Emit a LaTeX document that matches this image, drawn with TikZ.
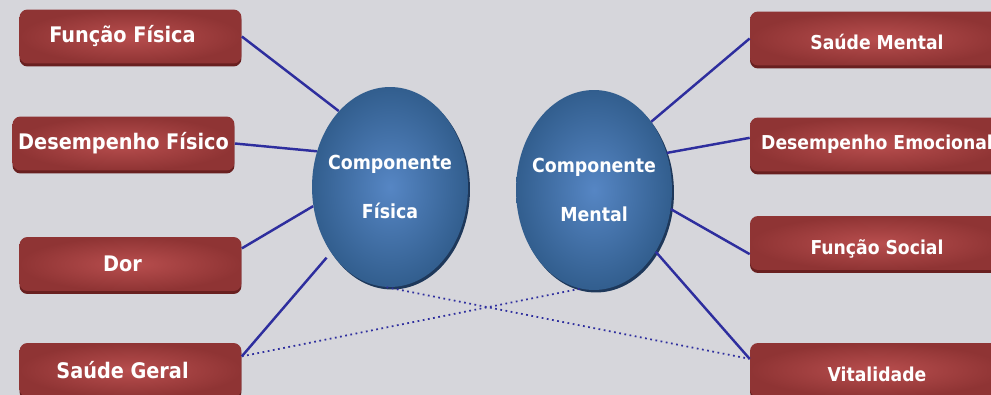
\documentclass[tikz,border=0pt]{standalone}
\usepackage{fontspec}
\newfontfamily\boxfont{DejaVu Sans Condensed}
\usetikzlibrary{shapes.geometric,shadows}

\definecolor{bgcol}{RGB}{214,214,219}
\definecolor{boxlight}{RGB}{184,78,78}
\definecolor{boxdark}{RGB}{143,52,52}
\definecolor{boxshade}{RGB}{105,32,32}
\definecolor{elllight}{RGB}{86,134,196}
\definecolor{elldark}{RGB}{50,94,142}
\definecolor{ellshade}{RGB}{30,56,90}
\definecolor{linkcol}{RGB}{46,46,158}

\tikzset{
	dimbox/.style={rounded corners=0.16cm, inner color=boxlight, outer color=boxdark,
		minimum height=1.08cm, inner sep=0pt, text=white,
		font=\boxfont\bfseries\fontsize{12.2}{14}\selectfont,
		drop shadow={shadow xshift=0cm, shadow yshift=-0.06cm, fill=boxshade, opacity=1}},
	leftbox/.style={dimbox, minimum width=4.44cm, execute at begin node=\hspace*{-0.32cm}},
	rightbox/.style={dimbox, minimum width=5.08cm, text height=12.6pt, text depth=0pt,
		font=\boxfont\bfseries\fontsize{10.9}{13}\selectfont},
	compell/.style={ellipse, inner xsep=-1cm, inner ysep=0pt, minimum width=3.12cm, minimum height=4cm,
		inner color=elllight, outer color=elldark, text=white, align=center,
		font=\boxfont\bfseries\fontsize{11}{13}\selectfont,
		drop shadow={shadow xshift=0.04cm, shadow yshift=-0.05cm, fill=ellshade, opacity=1}},
	link/.style={draw=linkcol, line width=1.4pt},
	weaklink/.style={draw=linkcol, line width=1pt, dotted}
}

\begin{document}
\begin{tikzpicture}[x=0.02cm, y=-0.02cm]
	% Parameters
	\def\lx{130.5}
	\def\rx{877}
	
	%background
	\fill[bgcol] (0,0) rectangle (991,395);
	\useasboundingbox (0,0) rectangle (991,395);
	\clip (0,0) rectangle (991,395);
	
	%boxes
	\node[leftbox] (ff) at (\lx,36.5) {Função Física};
	\node[dimbox, minimum width=4.44cm] (df) at (123.5,143.5) {Desempenho Físico};
	\node[leftbox] (dor) at (\lx,264) {Dor};
	\node[leftbox] (sg) at (\lx,370) {Saúde Geral};
	\node[rightbox] (sm) at (\rx,38.5) {Saúde Mental};
	\node[rightbox, text height=8.1pt, text depth=2.2pt] (de) at (\rx,144.5) {Desempenho Emocional};
	\node[rightbox] (fs) at (\rx,243) {Função Social};
	\node[rightbox] (vit) at (\rx,370) {Vitalidade};
	
	%components
	\node[compell] (cf) at (390,187) {Componente\\[15pt]Física};
	\node[compell] (cm) at (594,190) {Componente\\[15pt]Mental};
	
	%links
	\draw[link] (ff.east) -- (cf.124);
	\draw[link] (df.east) -- (cf.154);
	\draw[link] (dor.8) -- (cf.194);
	\draw[link, shorten >=0.13cm] (sg.7) -- (cf.228);
	\draw[link] (sm.west) -- (cm.50);
	\draw[link] (de.177) -- (cm.27);
	\draw[link] (fs.185) -- (cm.346);
	\draw[link] (vit.175) -- (cm.315);
	
	%cross links
	\draw[weaklink] (cf.268) -- (vit.175);
	\draw[weaklink] (sg.7) -- (cm.262);
\end{tikzpicture}
\end{document}
